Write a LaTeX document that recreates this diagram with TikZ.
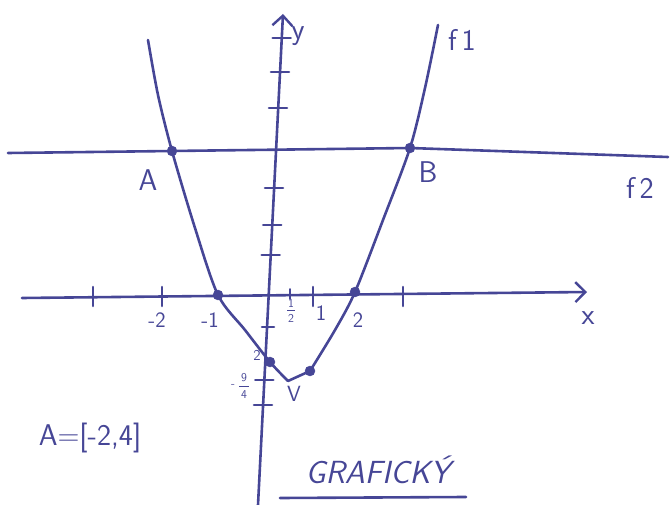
\documentclass[tikz,border=0pt]{standalone}
\usetikzlibrary{arrows.meta}
\definecolor{ink}{RGB}{70,70,150}
\begin{document}
\begin{tikzpicture}[x=1pt,y=-1pt,
  pen/.style={draw=ink,line width=2.6pt,line cap=round,line join=round},
  dotn/.style={circle,fill=ink,draw=ink,inner sep=0pt,minimum size=10pt},
  lbl/.style={text=ink,font=\fontsize{30}{32}\selectfont\sffamily},
  sm/.style={text=ink,font=\fontsize{22}{24}\selectfont\sffamily},
  tiny/.style={text=ink,inner sep=0pt,font=\fontsize{12}{12}\selectfont\sffamily},
  arr/.style={-{Straight Barb[length=10pt,width=20pt,line width=2.4pt]}}]
\useasboundingbox (0,0) rectangle (670,505);
% key points
\node[dotn] (A) at (172,151) {};
\node[dotn] (B) at (410,148) {};
\node[dotn] (m1) at (218,295) {};
\node[dotn] (p2) at (355,292) {};
\node[dotn] (c) at (270,362) {};
\node[dotn] (q) at (310,371) {};
\coordinate (V) at (288,381);
% axes
\coordinate (xl) at (22,298);
\coordinate (xr) at (587,292);
\coordinate (yb) at (258,505);
\coordinate (yt) at (283,14);
\draw[pen,arr] (xl) -- (xr);
\draw[pen,arr] (yb) -- (yt);
% f2
\coordinate (f2l) at (8,153);
\coordinate (f2r) at (668,157);
\draw[pen] (f2l) -- (A) -- (B) -- (f2r);
% f1
\draw[pen] plot[smooth,tension=0.5] coordinates {(148,40) (158,95) (A) (195,228) (m1) (245,330) (c) (V)};
\draw[pen] (V) -- (q);
\draw[pen] plot[smooth,tension=0.5] coordinates {(q) (335,330) (p2) (383,220) (B) (425,88) (438,25)};
% x ticks
\foreach \xx in {93,162,313,403} \draw[pen] (\xx,287) -- (\xx,306);
\draw[pen,line width=1.6pt] (290,289) -- (290,299);
% y ticks
\foreach \yy/\xx in {38/281.7,72/280,108/278,188/274,225/272.2,255/270.7,380/264.3,405/263}
  \draw[pen] (\xx-9,\yy) -- (\xx+9,\yy);
\draw[pen] (262,327) -- (274,327);
% labels
\node[lbl] (Al) at (148,180) {A};
\node[lbl] (Bl) at (428,172) {B};
\node[lbl] (f1l) at (462,40) {f\,1};
\node[lbl] (f2lab) at (640,188) {f\,2};
\node[lbl] (xlab) at (588,318) {x};
\node[lbl] (ylab) at (298,36) {y};
\node[sm] (lm2) at (157,320) {-2};
\node[sm] (lm1) at (210,320) {-1};
\node[tiny] (hn) at (291,303) {1};
\node[tiny] (hd) at (291,318) {2};
\draw[ink,line width=0.8pt] (287,310.5) -- (295,310.5);
\node[sm] (l1) at (321,313) {1};
\node[sm] (l2) at (358,320) {2};
\node[sm,inner sep=1pt,font=\fontsize{15}{15}\selectfont\sffamily] (lc) at (257,355) {2};
\node[tiny] (mn) at (233,386) {-};
\node[tiny] (nn) at (244,378) {9};
\node[tiny] (nd) at (244,395) {4};
\draw[ink,line width=0.8pt] (239,386.5) -- (249,386.5);
\node[sm] (lV) at (294,394) {V};
\node[lbl] (res) at (90,438) {A=[-2,4]};
\node[lbl,font=\fontsize{32}{34}\selectfont\sffamily\itshape] (gr) at (378,470) {GRAFICKÝ};
\coordinate (ul) at (280,498);
\coordinate (ur) at (466,497);
\draw[pen] (ul) -- (ur);
\end{tikzpicture}
\end{document}
